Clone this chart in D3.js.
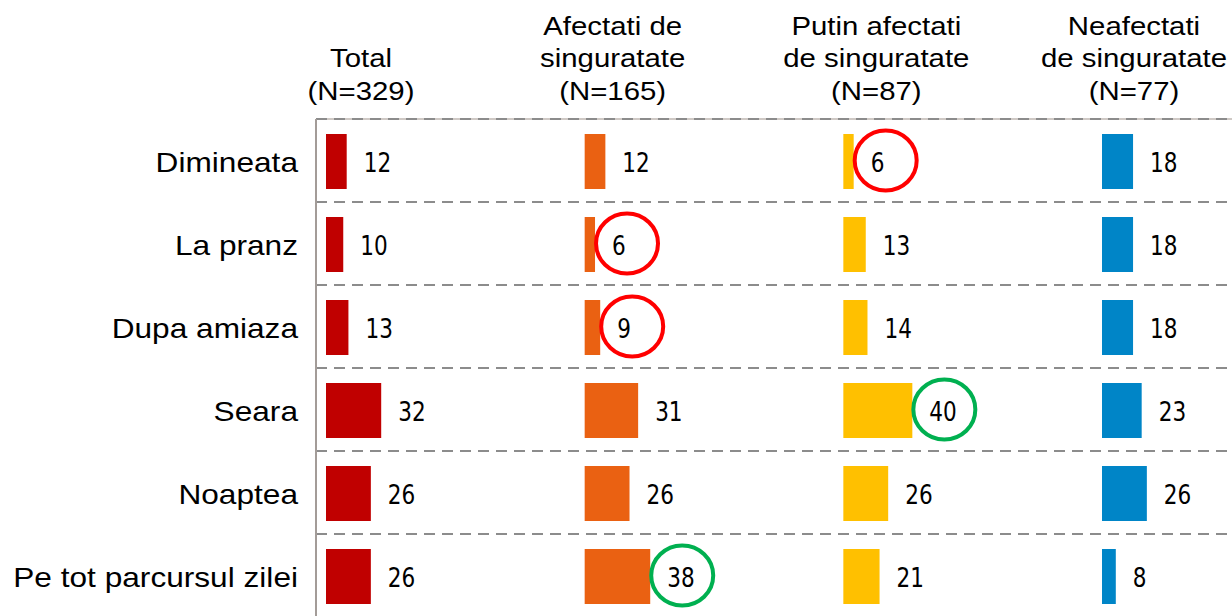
<!DOCTYPE html>
<html>
<head>
    <title>Momentul zilei</title>
    <style>
        body {
            margin: 0;
            background: #fff;
            font-family: "Liberation Sans", Arial, sans-serif;
        }
        svg {
            display: block;
        }
        .lbl {
            font-size: 28px;
            fill: #000;
        }
        .head {
            font-size: 26px;
            fill: #000;
        }
        .num {
            font-family: "DejaVu Sans Condensed", "DejaVu Sans", sans-serif;
            font-stretch: condensed;
            font-size: 24px;
            fill: #000;
        }
    </style>
    <script src="https://cdn.jsdelivr.net/npm/d3@7"></script>
</head>
<body>
<script>
    var categories = ["Dimineata", "La pranz", "Dupa amiaza", "Seara", "Noaptea", "Pe tot parcursul zilei"];
    var groups = ["Total", "Afectati", "Putin", "Neafectati"];
    var headers = [
        ["", "Total", "(N=329)"],
        ["Afectati de", "singuratate", "(N=165)"],
        ["Putin afectati", "de singuratate", "(N=87)"],
        ["Neafectati", "de singuratate", "(N=77)"]
    ];
    var total = [12, 10, 13, 32, 26, 26];
    var afectati = [12, 6, 9, 31, 26, 38];
    var putin = [6, 13, 14, 40, 26, 21];
    var neafectati = [18, 18, 18, 23, 26, 8];
    // circled values: [group index, row index]
    var redMarks = [[2, 0], [1, 1], [1, 2]];
    var greenMarks = [[2, 3], [1, 5]];

    var colors = ["#C00000", "#EA6112", "#FFC000", "#0085C7"];
    var values = [total, afectati, putin, neafectati];

    var W = 1232, H = 616;
    var svg = d3.select("body").append("svg")
            .attr("width", W)
            .attr("height", H);

    var y = d3.scaleBand().domain(categories).range([119, 617]).paddingInner(0);
    var px = d3.scalePoint().domain(groups).range([326, 1102]);
    var hx = d3.scalePoint().domain(groups).range([361, 1134]);
    var x = d3.scaleLinear().domain([0, 40]).range([0, 69]);
    var barH = 55;
    var stretch = 1.13;

    var rowMid = function (c) {
        return y(c) + y.bandwidth() / 2 + 1;
    };

    // top solid line + dashed separators
    svg.append("line")
            .attr("x1", 316).attr("x2", W)
            .attr("y1", y.range()[0]).attr("y2", y.range()[0])
            .attr("stroke", "#CFC9C5").attr("stroke-width", 2);
    svg.selectAll("line.sep").data(categories).enter()
            .append("line").attr("class", "sep")
            .attr("x1", 316).attr("x2", W)
            .attr("y1", function (c) { return y(c); })
            .attr("y2", function (c) { return y(c); })
            .attr("stroke", "#8C8C8C")
            .attr("stroke-width", 2)
            .attr("stroke-dasharray", "11,7");

    // left axis line
    svg.append("line")
            .attr("x1", 316).attr("x2", 316)
            .attr("y1", y.range()[0]).attr("y2", H)
            .attr("stroke", "#A39C98").attr("stroke-width", 2);

    // category labels
    svg.selectAll("text.lbl").data(categories).enter()
            .append("text").attr("class", "lbl")
            .attr("text-anchor", "end")
            .attr("transform", function (c) {
                return "translate(298," + (rowMid(c) + 10) + ") scale(" + stretch + ",1)";
            })
            .text(function (c) { return c; });

    // headers
    groups.forEach(function (g, gi) {
        var cx = gi == 1 ? hx(g) - 6 : hx(g);
        headers[gi].forEach(function (line, li) {
            svg.append("text").attr("class", "head")
                    .attr("text-anchor", "middle")
                    .attr("transform", "translate(" + cx + "," + (34.5 + li * 32.5) + ") scale(" + stretch + ",1)")
                    .text(line);
        });
    });

    // bars + numbers
    groups.forEach(function (g, gi) {
        var rows = values[gi].map(function (v, i) { return {cat: categories[i], v: v}; });
        var panel = svg.append("g").attr("class", "panel");
        panel.selectAll("rect").data(rows).enter()
                .append("rect")
                .attr("x", px(g))
                .attr("y", function (d) { return rowMid(d.cat) - barH / 2; })
                .attr("width", function (d) { return x(d.v); })
                .attr("height", barH)
                .attr("fill", colors[gi]);
        panel.selectAll("text").data(rows).enter()
                .append("text").attr("class", "num")
                .attr("transform", function (d) {
                    return "translate(" + (px(g) + x(d.v) + 17) + "," + (rowMid(d.cat) + 10) + ") scale(1,1.12)";
                })
                .text(function (d) { return d.v; });
    });

    // circles
    function mark(list, col) {
        svg.selectAll(null).data(list).enter()
                .append("ellipse")
                .attr("cx", function (m) { return px(groups[m[0]]) + x(values[m[0]][m[1]]) + 32; })
                .attr("cy", function (m) { return rowMid(categories[m[1]]) - 1; })
                .attr("rx", 31)
                .attr("ry", 30)
                .attr("fill", "none")
                .attr("stroke", col)
                .attr("stroke-width", 4);
    }
    mark(redMarks, "#FF0000");
    mark(greenMarks, "#00B050");
</script>
</body>
</html>
